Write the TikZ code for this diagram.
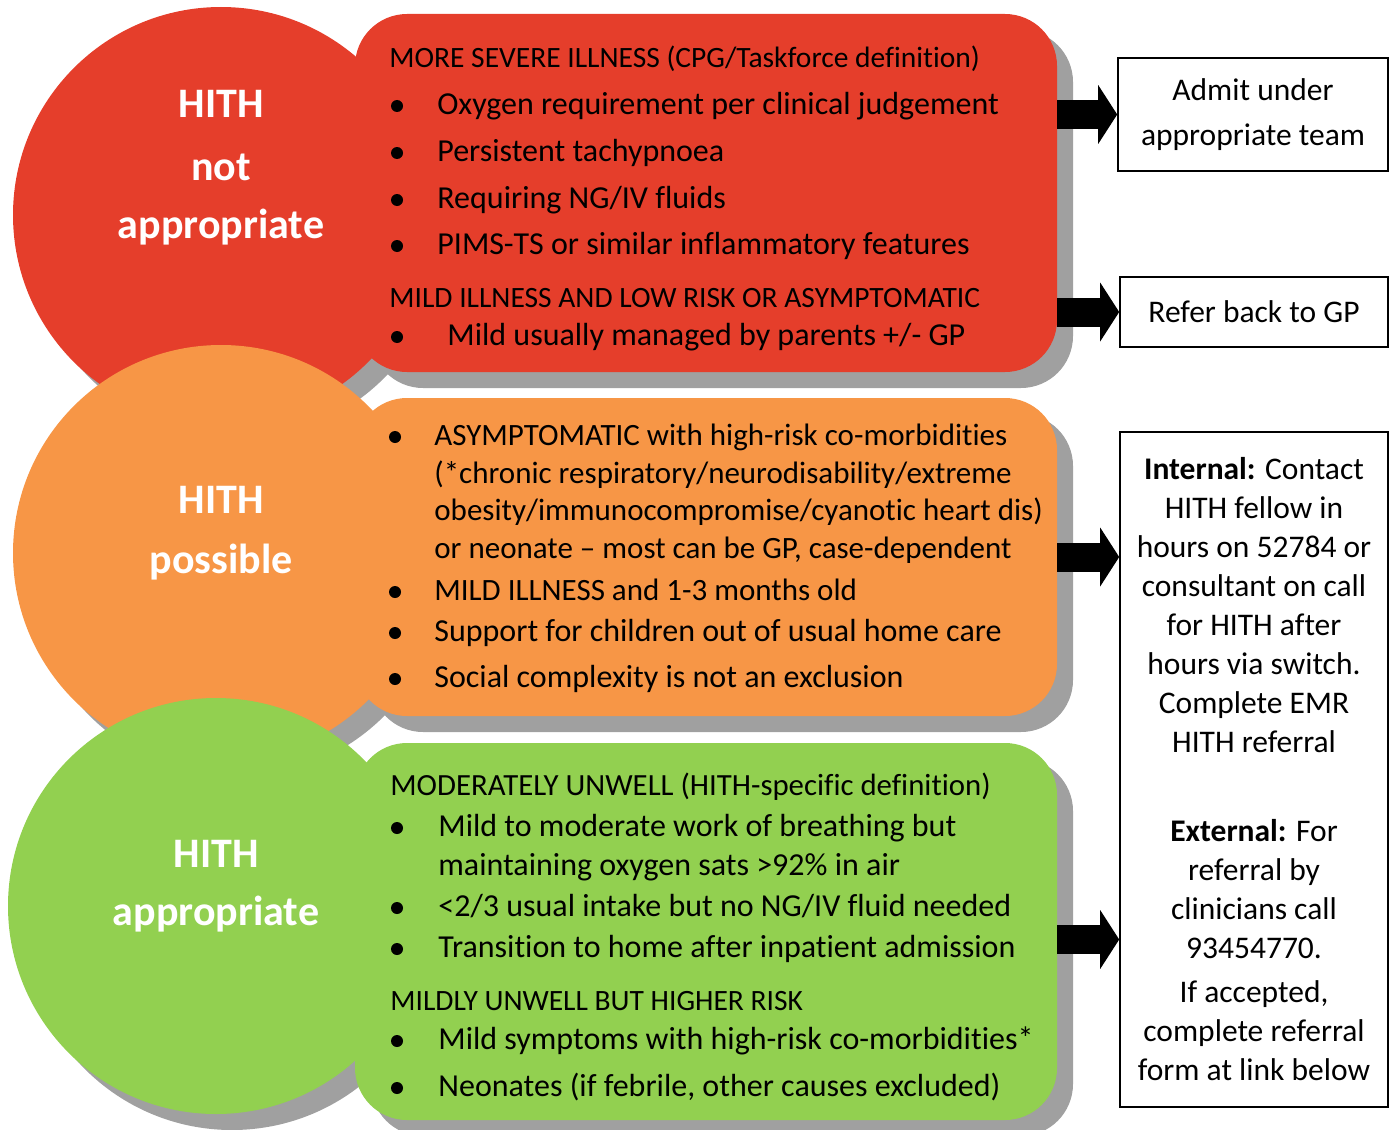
\documentclass[tikz,border=0pt]{standalone}
\usepackage{fontspec}
\setmainfont{Carlito}[Ligatures={TeX,NoCommon}]
\usetikzlibrary{positioning,calc,arrows.meta,shadows}
\definecolor{hithred}{HTML}{E53E2B}
\definecolor{hithorange}{HTML}{F79646}
\definecolor{hithgreen}{HTML}{92D050}
\definecolor{shadowgray}{HTML}{A0A0A0}
\tikzset{
	gshadow/.style={drop shadow={shadow xshift=8pt, shadow yshift=-8pt, fill=shadowgray, opacity=1}},
	level/.style={circle, minimum size=208pt, inner sep=0pt, gshadow},
	card/.style={rectangle, rounded corners=26pt, minimum width=351pt, inner sep=0pt, gshadow},
	lbl/.style={anchor=base, inner sep=0pt, text=white, font=\fontsize{21}{25}\selectfont\bfseries},
	head/.style={anchor=base west, inner sep=0pt, font=\fontsize{14.75}{17}\selectfont},
	txt/.style={anchor=base west, inner sep=0pt, font=\fontsize{16}{19}\selectfont},
	stxt/.style={txt, font=\fontsize{15.5}{19}\selectfont},
	bul/.style={circle, fill=black, minimum size=6pt, inner sep=0pt},
	outbox/.style={draw, line width=0.8pt, align=center, inner sep=0pt},
	bigarrow/.style={line width=14.5pt, -{Triangle[length=9.5pt,width=29pt]}}
}

\begin{document}
\begin{tikzpicture}[x=0.5pt, y=-0.5pt]
	\useasboundingbox (0,0) rectangle (1396,1129);

	% not appropriate
	\node[level, fill=hithred] (redlvl) at (221,215) {};
	\node[card, fill=hithred, minimum height=179pt] (redbox) at (706,193) {};
	% possible
	\node[level, fill=hithorange] (orangelvl) at (221,553) {};
	\node[card, fill=hithorange, minimum height=159pt] (orangebox) at (706,557) {};
	% appropriate
	\node[level, fill=hithgreen] (greenlvl) at (216,906) {};
	\node[card, fill=hithgreen, minimum height=188.5pt] (greenbox) at (706,931.5) {};

	\node[lbl] (redl1) at (221,118) {HITH};
	\node[lbl] (redl2) at (221,180) {not};
	\node[lbl] (redl3) at (221,238) {appropriate};
	\node[lbl] (orangel1) at (221,513) {HITH};
	\node[lbl] (orangel2) at (221,573) {possible};
	\node[lbl] (greenl1) at (216,867) {HITH};
	\node[lbl] (greenl2) at (216,925) {appropriate};

	% red text
	\node[head] (rh1) at (389,68) {MORE SEVERE ILLNESS (CPG/Taskforce definition)};
	\node[txt] (rt1) at (437,114) {Oxygen requirement per clinical judgement};
	\node[txt] (rt2) at (437,161) {Persistent tachypnoea};
	\node[txt] (rt3) at (437,208) {Requiring NG/IV fluids};
	\node[txt] (rt4) at (437,254) {PIMS-TS or similar inflammatory features};
	\node[head] (rh2) at (389,307) {MILD ILLNESS AND LOW RISK OR ASYMPTOMATIC};
	\node[txt] (rt5) at (447,345) {Mild usually managed by parents +/- GP};
	\foreach \y in {106,153,200,246,337}
		\node[bul] (rb\y) at (397,\y) {};

	% orange text
	\node[stxt] (ot1) at (434,445) {ASYMPTOMATIC with high-risk co-morbidities};
	\node[stxt] (ot2) at (434,483) {(*chronic respiratory/neurodisability/extreme};
	\node[stxt] (ot3) at (434,520) {obesity/immunocompromise/cyanotic heart dis)};
	\node[stxt] (ot4) at (434,558) {or neonate – most can be GP, case-dependent};
	\node[stxt] (ot5) at (434,600) {MILD ILLNESS and 1-3 months old};
	\node[txt] (ot6) at (434,641) {Support for children out of usual home care};
	\node[txt] (ot7) at (434,687) {Social complexity is not an exclusion};
	\foreach \y in {437,592,633,679}
		\node[bul] (ob\y) at (395,\y) {};

	% green text
	\node[head, font=\fontsize{15.4}{17}\selectfont] (gh1) at (390,795) {MODERATELY UNWELL (HITH-specific definition)};
	\node[txt] (gt1) at (438,836) {Mild to moderate work of breathing but};
	\node[txt] (gt2) at (438,875) {maintaining oxygen sats >92\% in air};
	\node[txt] (gt3) at (438,916) {<2/3 usual intake but no NG/IV fluid needed};
	\node[txt] (gt4) at (438,957) {Transition to home after inpatient admission};
	\node[head] (gh2) at (390,1010) {MILDLY UNWELL BUT HIGHER RISK};
	\node[txt] (gt5) at (438,1049) {Mild symptoms with high-risk co-morbidities*};
	\node[txt] (gt6) at (438,1096) {Neonates (if febrile, other causes excluded)};
	\foreach \y in {828,908,949,1041,1088}
		\node[bul] (gb\y) at (397,\y) {};

	% outcomes
	\node[outbox, minimum width=135pt, minimum height=56.5pt,
		font=\fontsize{15.75}{22.5}\selectfont] (admit) at (1253,114.5)
		{Admit under\\appropriate team};
	\node[outbox, minimum width=134pt, minimum height=35pt,
		font=\fontsize{15.75}{19.5}\selectfont] (refer) at (1254,312)
		{Refer back to GP};
	\node[outbox, minimum width=134pt, minimum height=337.5pt,
		font=\fontsize{15.75}{19.5}\selectfont] (hith) at (1254,769.5)
		{\textbf{Internal:} Contact\\HITH fellow in\\hours on 52784 or\\consultant on call\\for HITH after\\hours via switch.\\Complete EMR\\HITH referral\\[25pt]
		\textbf{External:} For\\referral by\\clinicians call\\93454770.\\[2.5pt]
		If accepted,\\complete referral\\form at link below};

	\draw[bigarrow] (admit.west -| redbox.east) -- (admit.west);
	\draw[bigarrow] (refer.west -| redbox.east) -- (refer.west);
	\draw[bigarrow] (orangebox.east) -- (orangebox.east -| hith.west);
	\draw[bigarrow] ([yshift=-4pt]greenbox.east) -- ([yshift=-4pt]greenbox.east -| hith.west);
\end{tikzpicture}
\end{document}
